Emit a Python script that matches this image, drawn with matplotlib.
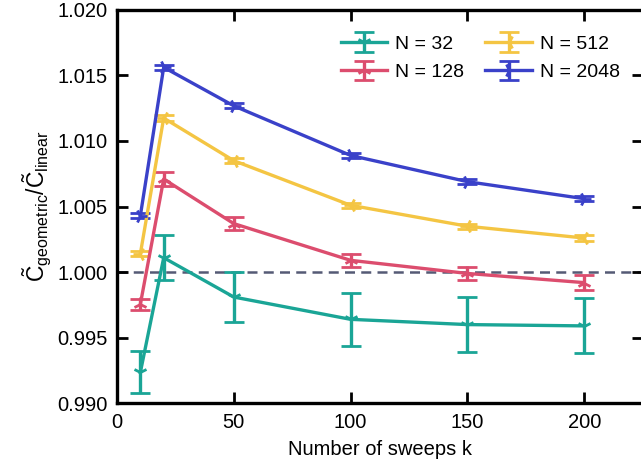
import matplotlib
matplotlib.use("Agg")
import matplotlib.pyplot as plt

plt.rcParams['font.family'] = ['Liberation Sans', 'DejaVu Sans']
plt.rcParams['mathtext.fontset'] = 'custom'
plt.rcParams['mathtext.rm'] = 'Liberation Sans'
plt.rcParams['mathtext.it'] = 'Liberation Sans'

k = [10, 20, 50, 100, 150, 200]
labels = ["N = 32", "N = 128", "N = 512", "N = 2048"]
colors = ["#1aa596", "#dc4d6e", "#f4c543", "#3a41c9"]
markers = ["1", "2", "3", "4"]

y32 = [0.99235, 1.0011, 0.9981, 0.9964, 0.9960, 0.9959]
e32 = [0.0016, 0.0017, 0.0019, 0.0020, 0.0021, 0.0021]
y128 = [0.99755, 1.0071, 1.0037, 1.0009, 0.9999, 0.9992]
e128 = [0.0004, 0.0005, 0.0005, 0.0005, 0.0005, 0.0006]
y512 = [1.0014, 1.01175, 1.0085, 1.0051, 1.0035, 1.0026]
e512 = [0.0002, 0.0002, 0.0002, 0.0002, 0.0002, 0.0002]
y2048 = [1.0043, 1.01562, 1.01268, 1.0089, 1.0069, 1.0056]
e2048 = [0.0002, 0.0002, 0.0002, 0.0002, 0.0002, 0.0002]

fig = plt.figure(figsize=(6.41, 4.70), dpi=100)
ax = fig.add_axes([0.1825, 0.142, 0.82, 0.837])

ax.axhline(1.0, color="#555a75", lw=1.8, ls=(0, (4, 2.5)), zorder=1)

for y, e, c, m, lab in zip([y32, y128, y512, y2048], [e32, e128, e512, e2048], colors, markers, labels):
    ax.errorbar(k, y, yerr=e, color=c, lw=2.4, marker=m, ms=10, mew=2.0,
                capsize=7.5, capthick=3, elinewidth=2.4, label=lab, zorder=3)

ax.set_xlim(0, 225)
ax.set_ylim(0.990, 1.020)
ax.set_xticks([0, 50, 100, 150, 200])
ax.set_yticks([0.990, 0.995, 1.000, 1.005, 1.010, 1.015, 1.020])
ax.set_yticklabels(["0.990", "0.995", "1.000", "1.005", "1.010", "1.015", "1.020"])
ax.tick_params(direction="in", length=8, width=2, top=True, right=True, labelsize=14.5, pad=7)
for s in ax.spines.values():
    s.set_linewidth(2.4)

ax.set_xlabel("Number of sweeps k", fontsize=14.5, labelpad=6)
ax.set_ylabel(r"$\tilde{\mathrm{C}}_{\mathrm{geometric}}/\tilde{\mathrm{C}}_{\mathrm{linear}}$", fontsize=16.5, labelpad=2)

ax.legend(loc="upper right", ncol=2, frameon=False, fontsize=14, handlelength=2.4,
          columnspacing=1.1, handletextpad=0.4, labelspacing=0.55, bbox_to_anchor=(0.99, 0.98))

fig.savefig("out.png", dpi=100)
